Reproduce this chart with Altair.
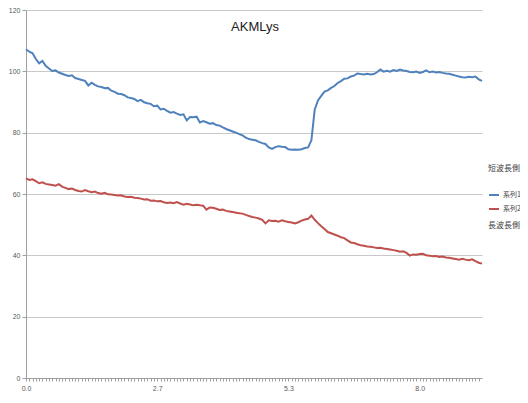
import altair as alt
import pandas as pd

blue = [107.2, 106.4, 105.9, 104.0, 102.6, 103.4, 101.8, 100.9, 100.1, 100.3,
        99.6, 99.2, 98.8, 98.5, 98.7, 97.8, 97.5, 97.2, 96.9, 95.4,
        96.3, 95.6, 95.1, 94.9, 94.5, 94.6, 93.7, 93.3, 92.7, 92.6,
        92.2, 91.5, 91.3, 91.0, 90.3, 90.7, 89.9, 89.6, 89.4, 88.6,
        88.8, 87.6, 87.8, 87.1, 86.5, 86.7, 86.2, 85.8, 86.0, 84.0,
        85.1, 85.0, 85.2, 83.3, 83.8, 83.4, 82.9, 83.1, 82.5, 82.3,
        81.7, 81.2, 80.8, 80.4, 80.0, 79.5, 79.1, 78.4, 77.9, 77.7,
        77.5, 77.0, 76.6, 76.3, 75.2, 74.7, 75.3, 75.6, 75.4, 75.3,
        74.6, 74.4, 74.5, 74.4, 74.6, 75.0, 75.2, 77.5, 87.5, 90.5,
        92.0, 93.4, 93.8, 94.6, 95.2, 96.2, 96.8, 97.6, 97.7, 98.3,
        98.6, 99.3, 99.1, 99.0, 99.2, 99.0, 99.1, 99.7, 100.6, 99.9,
        100.2, 99.9, 100.4, 100.1, 100.6, 100.3, 100.1, 99.8, 99.7, 99.9,
        99.5, 99.8, 100.3, 99.7, 99.9, 99.6, 99.8, 99.5, 99.3, 99.2,
        98.9, 98.6, 98.3, 98.1, 98.0, 98.2, 98.1, 98.3, 97.4, 96.9]

red = [65.1, 64.6, 64.8, 64.2, 63.5, 63.8, 63.3, 63.1, 62.9, 62.7,
       63.2, 62.4, 62.0, 61.6, 61.8, 61.3, 61.0, 60.8, 61.3, 60.9,
       60.6, 60.8, 60.3, 60.1, 60.4, 59.9, 59.8, 59.7, 59.5, 59.6,
       59.2, 59.0, 59.1, 58.8, 58.7, 58.5, 58.2, 58.3, 57.8, 57.9,
       57.6, 57.7, 57.3, 57.1, 57.2, 57.0, 57.4, 56.9, 56.5, 56.8,
       56.6, 56.3, 56.5, 56.3, 56.2, 54.9, 55.6, 55.5, 55.2, 54.8,
       54.9, 54.5, 54.3, 54.1, 53.9, 53.7, 53.6, 53.2, 52.8, 52.5,
       52.3, 52.0, 51.6, 50.4, 51.4, 51.2, 51.3, 51.0, 51.4, 51.1,
       50.9, 50.7, 50.4, 50.8, 51.3, 51.7, 51.9, 53.0, 51.6, 50.5,
       49.5, 48.6, 47.6, 47.2, 46.8, 46.4, 45.9, 45.6, 44.9, 44.2,
       44.0, 43.6, 43.3, 43.1, 42.9, 42.8, 42.6, 42.4, 42.5, 42.2,
       42.1, 41.9, 41.7, 41.5, 41.2, 41.3, 40.8, 39.9, 40.3, 40.2,
       40.4, 40.5, 40.0, 39.9, 39.7, 39.8, 39.5, 39.6, 39.3, 39.2,
       39.0, 38.8, 38.6, 38.9, 38.6, 38.4, 38.7, 38.1, 37.6, 37.3]

series_names = ["系列1", "系列2"]
series_colors = ["#4F81BD", "#C0504D"]
y_ticks = [0, 20, 40, 60, 80, 100, 120]
title_text = "AKMLys"
legend_title = "短波長側"
legend_footer = "長波長側"

n = len(blue)
xs = [i / 15 for i in range(n)]

df = pd.DataFrame({
    "x": xs + xs,
    "y": blue + red,
    "s": [series_names[0]] * n + [series_names[1]] * n,
})

lines = alt.Chart(df).mark_line(strokeWidth=2).encode(
    x=alt.X("x:Q",
            scale=alt.Scale(domain=[0, xs[-1]], nice=False, zero=False),
            axis=alt.Axis(values=xs[:-1], grid=False, title=None,
                          labelExpr="round(datum.value*15) % 40 == 0 ? format(datum.value, '.1f') : ''",
                          labelOverlap=False, labelFlush=False,
                          tickSize=3, tickColor="#a0a0a0", domainColor="#a0a0a0",
                          labelFontSize=7, labelColor="#595959", labelPadding=3,
                          labelFont="Liberation Sans")),
    y=alt.Y("y:Q",
            scale=alt.Scale(domain=[0, 120], nice=False),
            axis=alt.Axis(values=y_ticks, title=None, gridColor="#c8c8c8",
                          tickSize=4, tickColor="#a0a0a0", domainColor="#a0a0a0",
                          labelFontSize=7, labelColor="#595959", labelPadding=2,
                          labelFont="Liberation Sans")),
    color=alt.Color("s:N",
                    scale=alt.Scale(domain=series_names, range=series_colors),
                    legend=alt.Legend(orient="none", legendX=462, legendY=155,
                                      title=legend_title, titleFontSize=8,
                                      titleFontWeight="normal", titleColor="#404040",
                                      titlePadding=16, titleFont="Noto Sans CJK JP",
                                      labelFontSize=7, labelColor="#404040",
                                      labelFont="Noto Sans CJK JP",
                                      symbolType="stroke", symbolSize=100,
                                      symbolStrokeWidth=2, rowPadding=4,
                                      labelOffset=3)),
)

title = alt.Chart(pd.DataFrame({"t": [title_text]})).mark_text(
    fontSize=13, font="Liberation Sans", color="#222222", align="center", baseline="middle"
).encode(text="t:N", x=alt.value(229), y=alt.value(17))

footer = alt.Chart(pd.DataFrame({"t": [legend_footer]})).mark_text(
    fontSize=8, font="Noto Sans CJK JP", color="#404040", align="left", baseline="middle"
).encode(text="t:N", x=alt.value(462), y=alt.value(216))

chart = alt.layer(lines, title, footer).properties(
    width=456, height=368,
    padding={"left": 18, "top": 2, "right": 38, "bottom": 16},
    autosize=alt.AutoSizeParams(type="none"),
).configure(background="white").configure_view(stroke="transparent", strokeWidth=0)

chart.save("out.html", embed_options={"renderer": "svg", "actions": False})
